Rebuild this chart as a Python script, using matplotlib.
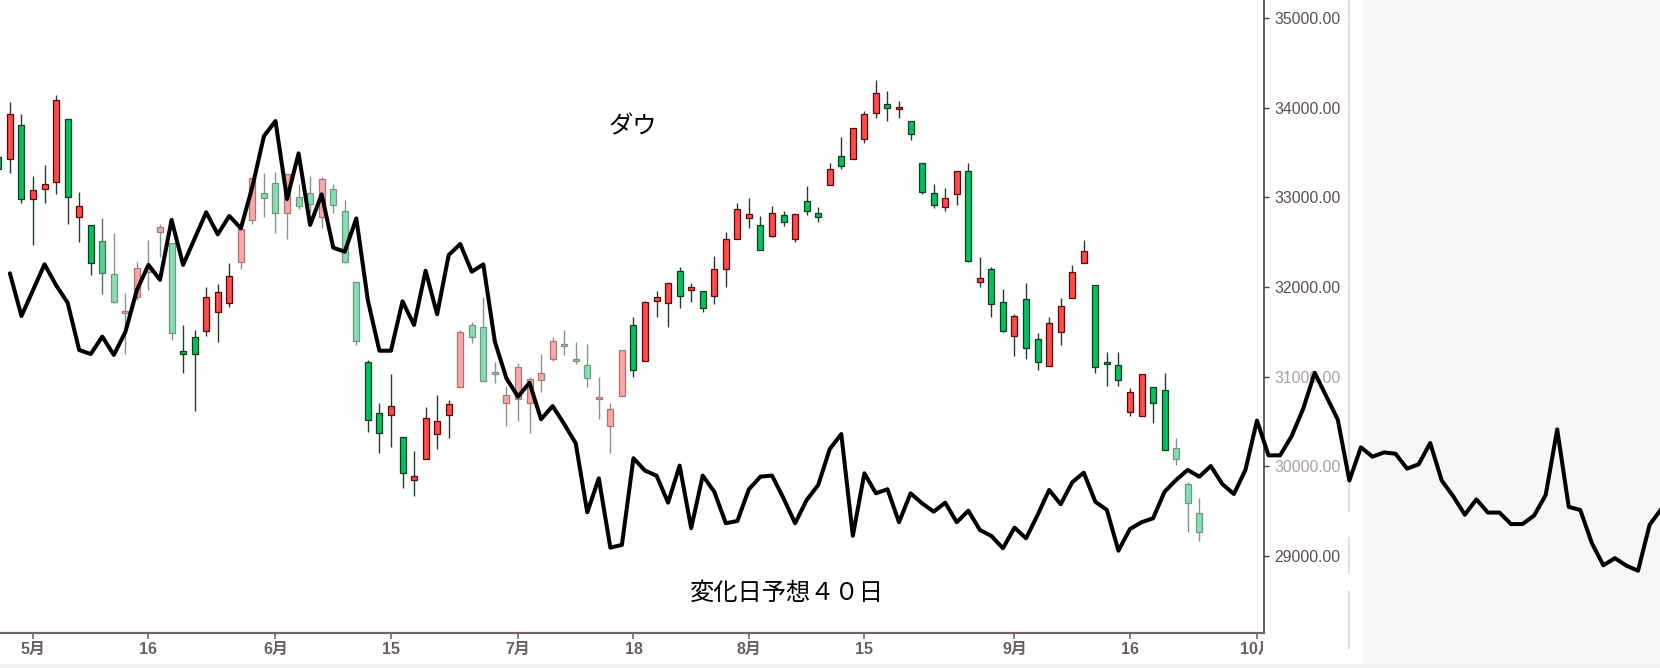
import numpy as np
import matplotlib
matplotlib.use("Agg")
import matplotlib.pyplot as plt
from matplotlib import font_manager as fm
from matplotlib.transforms import Bbox, TransformedBbox
from matplotlib.patches import Rectangle
from matplotlib.lines import Line2D

# ---------------- data (Dow, trading-day index; first candle index = -3) ----------------
first_candle_index = -3
opens = [33450, 33427, 33806, 32981, 33096, 33174, 33869, 32783, 32687, 32516,
         32141, 31706, 31891, 32170, 32609, 32488, 31290, 31438, 31509, 31724,
         31825, 32275, 32746, 33044, 33163, 32821, 33000, 33044, 32783, 33096,
         32847, 32050, 31160, 30598, 30569, 30323, 29848, 30082, 30357, 30569,
         30881, 31576, 31557, 31050, 30709, 30747, 30709, 30963, 31196, 31360,
         31200, 31130, 30750, 30450, 30784, 31576, 31178, 31843, 31825, 32182,
         31970, 31956, 31900, 32197, 32532, 32766, 32687, 32568, 32803, 32532,
         32962, 32828, 33137, 33460, 33427, 33646, 33936, 34040, 33985, 33850,
         33379, 33044, 32895, 33036, 33297, 32059, 32200, 31829, 31453, 31866,
         31416, 31116, 31495, 31880, 32264, 32019, 31160, 31130, 30609, 30565,
         30889, 30849, 30207, 29803, 29483]
highs = [33450, 34066, 33928, 33240, 33363, 34144, 33869, 33062, 32687, 32772,
         32598, 31929, 32282, 32524, 32702, 32488, 31576, 31520, 31996, 32029,
         32264, 32660, 33220, 33267, 33278, 33256, 33148, 33240, 33222, 33148,
         32970, 32060, 31180, 30702, 31030, 30330, 30167, 30658, 30798, 30740,
         31520, 31613, 31890, 31167, 30900, 31150, 30993, 31249, 31446, 31521,
         31382, 31364, 30993, 30702, 31297, 31661, 31840, 31955, 32048, 32226,
         32048, 31956, 32345, 32616, 32933, 32989, 32791, 32906, 32850, 32810,
         33126, 32895, 33379, 33675, 33769, 33966, 34304, 34185, 34073, 33850,
         33380, 33148, 33107, 33297, 33379, 32338, 32226, 31974, 31700, 32048,
         31483, 31668, 31880, 32245, 32523, 32019, 31278, 31278, 30878, 31030,
         30889, 31037, 30312, 29829, 29643]
lows = [33316, 33267, 32933, 32468, 32940, 33033, 32702, 32505, 32133, 31918,
        31820, 31252, 31855, 31967, 32338, 31408, 31038, 30621, 31450, 31389,
        31780, 32200, 32702, 32783, 32605, 32531, 32866, 32825, 32661, 32830,
        32270, 31350, 30386, 30153, 30212, 29762, 29669, 30082, 30193, 30312,
        30881, 31372, 30946, 30926, 30453, 30509, 30369, 30825, 31178, 31242,
        31137, 30881, 30525, 30153, 30784, 31000, 31178, 31668, 31550, 31762,
        31835, 31724, 31810, 31996, 32530, 32661, 32412, 32553, 32680, 32505,
        32803, 32720, 33137, 33312, 33427, 33602, 33880, 33854, 33880, 33639,
        33033, 32877, 32850, 32914, 32283, 31996, 31668, 31500, 31230, 31193,
        31074, 31116, 31354, 31880, 32264, 31037, 30895, 30895, 30561, 30565,
        30486, 30180, 30015, 29264, 29170]
closes = [33316, 33925, 32981, 33081, 33144, 34085, 33000, 32906, 32264, 32159,
          31835, 31735, 32208, 32226, 32673, 31491, 31253, 31252, 31891, 31947,
          32122, 32650, 33218, 32990, 32828, 33256, 32906, 32925, 33201, 32910,
          32275, 31393, 30516, 30375, 30672, 29927, 29892, 30539, 30502, 30695,
          31500, 31438, 30946, 31029, 30793, 31105, 30971, 31045, 31401, 31338,
          31173, 30981, 30772, 30636, 31297, 31072, 31835, 31891, 32048, 31899,
          32004, 31761, 32204, 32535, 32866, 32810, 32412, 32828, 32726, 32810,
          32847, 32783, 33315, 33352, 33769, 33928, 34159, 33999, 34005, 33706,
          33063, 32909, 32989, 33297, 32293, 32104, 31810, 31512, 31676, 31316,
          31160, 31595, 31792, 32163, 32401, 31105, 31140, 30963, 30833, 31030,
          30709, 30180, 30078, 29595, 29264]

# forecast line ("変化日予想４０日"), trading-day index starting at -2
first_line_index = -2
forecast = [32152, 31676, 31966, 32253, 32019, 31824, 31297, 31252, 31446, 31242,
            31498, 31967, 32246, 32079, 32748, 32246, 32539, 32833, 32587, 32792,
            32654, 33118, 33683, 33850, 32980, 33490, 32691, 33033, 32438, 32393,
            32765, 31850, 31289, 31289, 31840, 31576, 32181, 31695, 32356, 32479,
            32170, 32252, 31389, 30981, 30776, 30932, 30524, 30672, 30472, 30257,
            29487, 29866, 29093, 29123, 30090, 29952, 29896, 29595, 30008, 29310,
            29896, 29717, 29365, 29390, 29744, 29885, 29896, 29643, 29365, 29624,
            29791, 30192, 30360, 29226, 29922, 29699, 29744, 29376, 29699, 29587,
            29494, 29594, 29376, 29505, 29290, 29223, 29086, 29316, 29197, 29457,
            29736, 29577, 29822, 29929, 29605, 29513, 29059, 29301, 29376, 29420,
            29717, 29848, 29960, 29884, 30003, 29802, 29691, 29960, 30510, 30122,
            30122, 30336, 30641, 31043, 30781, 30520, 29841, 30212, 30107, 30155,
            30140, 29974, 30022, 30260, 29841, 29665, 29460, 29631, 29484, 29484,
            29356, 29356, 29451, 29679, 30411, 29547, 29513, 29143, 28896, 28976,
            28891, 28835, 29347, 29522]

x_tick_index = [0, 10, 21, 31, 42, 52, 62, 72, 85, 95, 106]
x_tick_labels = ["5月", "16", "6月", "15", "7月", "18", "8月", "15", "9月", "16", "10月"]
y_ticks = [29000, 30000, 31000, 32000, 33000, 34000, 35000]

title_text = "ダウ"
note_text = "変化日予想４０日"

# ---------------- styles ----------------
faded = {6: 0.3}
for i in list(range(7, 13)) + list(range(18, 29)) + list(range(37, 52)) + [99, 100, 101]:
    faded[i] = 0.5
pale_ylabels = {30000, 31000}

W, H = 1660, 668
names = {f.name for f in fm.fontManager.ttflist}
narrow = "Liberation Sans Narrow" in names
tick_family = (["Liberation Sans Narrow"] if narrow else ["Liberation Sans"]) + ["Noto Sans CJK JP", "DejaVu Sans"]
ysize = 13 if narrow else 11.3
xsize = 13 if narrow else 11.5


def blend(c, f):
    c = np.array(matplotlib.colors.to_rgb(c))
    return tuple(c * (1 - f) + f)


fig = plt.figure(figsize=(W / 100, H / 100), dpi=100)
fig.patch.set_facecolor("white")
# grey panel to the right and bottom band
fig.patches.append(Rectangle((1362 / W, 0), 1 - 1362 / W, 1, transform=fig.transFigure,
                             facecolor="#f7f7f7", edgecolor="none", zorder=-5))
fig.patches.append(Rectangle((0, 0), 1, 4 / H, transform=fig.transFigure,
                             facecolor="#f2f2f2", edgecolor="none", zorder=-5))
for (ya, yb) in [(0, 511), (538, 573), (592, 648)]:
    fig.lines.append(Line2D([1348.5 / W] * 2, [1 - ya / H, 1 - yb / H], transform=fig.transFigure,
                            color="#e2e2e2", lw=1.6, zorder=-4))

px_per_day = 11.547
x0_pix = 33.0
xmin = (0 - x0_pix) / px_per_day
xmax_main = (1264 - x0_pix) / px_per_day
xmax_full = (W - x0_pix) / px_per_day
ylim = (28141, 35200)

ax = fig.add_axes([0, 35 / H, 1264 / W, 633 / H])
ax.set_xlim(xmin, xmax_main)
ax.set_ylim(*ylim)
ax.set_facecolor("white")

idx = np.arange(first_candle_index, first_candle_index + len(opens))
o = np.array(opens, float)
c = np.array(closes, float)
hi = np.array(highs, float)
lo = np.array(lows, float)

fills, edges, wicks = [], [], []
for i, oo, cc in zip(idx, o, c):
    f = faded.get(int(i), 0.0)
    if cc >= oo:
        fill, edge = "#ff4a4a", "#5c0808"
    else:
        fill, edge = "#00c25e", "#0f3a1f"
    fills.append(blend(fill, f))
    edges.append(blend(edge, f * 0.9))
    wicks.append(blend("#1f3f2a", f * 0.9))

bottoms = np.minimum(o, c)
heights = np.maximum(np.abs(c - o), 18)
ax.vlines(idx, lo, hi, colors=wicks, linewidth=1.0, zorder=2)
ax.bar(idx, heights, bottom=bottoms, width=0.52, color=fills, edgecolor=edges,
       linewidth=0.9, zorder=3)

# axes styling
for s in ["top", "left"]:
    ax.spines[s].set_visible(False)
ax.spines["bottom"].set_color("#6e6469")
ax.spines["bottom"].set_linewidth(1.6)
ax.spines["right"].set_color("#4d3f45")
ax.spines["right"].set_linewidth(1.2)

ax.yaxis.tick_right()
ax.set_yticks(y_ticks)
ax.set_yticklabels([f"{v:.2f}" for v in y_ticks])
ax.tick_params(axis="y", direction="out", length=3.5, width=1.0, color="#4d3f45", pad=4,
               labelsize=ysize)
for lab, v in zip(ax.get_yticklabels(), y_ticks):
    lab.set_family(tick_family)
    lab.set_color("#a99fa5" if v in pale_ylabels else "#5a4c54")

ax.set_xticks(x_tick_index)
ax.set_xticklabels(x_tick_labels)
ax.tick_params(axis="x", direction="out", length=4.5, width=1.2, color="#6e6469", pad=2,
               labelsize=xsize)
for lab in ax.get_xticklabels():
    lab.set_family(tick_family)
    lab.set_color("#6a5f65")
    lab.set_fontweight("bold")
clip = TransformedBbox(Bbox([[0, 0], [1263 / W, 1]]), fig.transFigure)
last = ax.xaxis.get_major_ticks()[-1].label1
last.set_clip_box(clip)
last.set_clip_on(True)

# overlay for the forecast line across the whole width
ax2 = fig.add_axes([0, 35 / H, 1, 633 / H])
ax2.set_xlim(xmin, xmax_full)
ax2.set_ylim(*ylim)
ax2.set_axis_off()
lx = np.arange(first_line_index, first_line_index + len(forecast))
ax2.plot(lx, forecast, color="black", lw=2.9, solid_joinstyle="round", solid_capstyle="round",
         zorder=5)

fig.text(632.5 / W, 1 - 126.7 / H, title_text, ha="center", va="center", fontsize=17.5,
         family=["Noto Sans CJK JP"], color="black")
fig.text(786.7 / W, 1 - 592.5 / H, note_text, ha="center", va="center", fontsize=17.5,
         family=["Noto Sans CJK JP"], color="black")

fig.savefig("out.png", dpi=100)
